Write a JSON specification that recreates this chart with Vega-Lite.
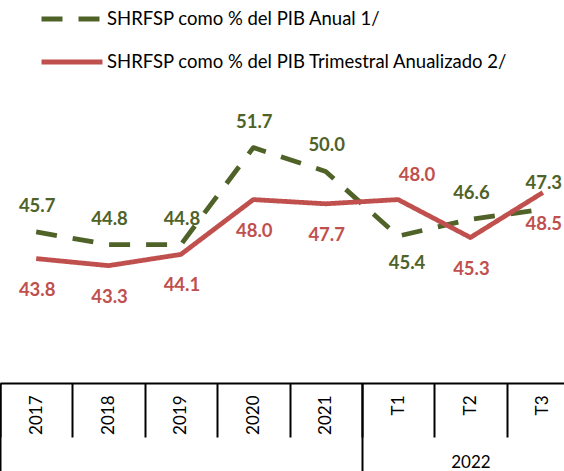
{
  "$schema": "https://vega.github.io/schema/vega-lite/v6.json",
  "width": 564,
  "height": 383,
  "autosize": {"type": "none"},
  "padding": {"top": 0, "left": 0, "right": 0, "bottom": 88},
  "background": "white",
  "config": {"view": {"stroke": null}, "font": "Lato"},
  "data": {
    "values": [
      {"periodo": "2017", "serie": "SHRFSP como % del PIB Anual 1/", "valor": 45.7},
      {"periodo": "2018", "serie": "SHRFSP como % del PIB Anual 1/", "valor": 44.8},
      {"periodo": "2019", "serie": "SHRFSP como % del PIB Anual 1/", "valor": 44.8},
      {"periodo": "2020", "serie": "SHRFSP como % del PIB Anual 1/", "valor": 51.7},
      {"periodo": "2021", "serie": "SHRFSP como % del PIB Anual 1/", "valor": 50.0},
      {"periodo": "T1", "serie": "SHRFSP como % del PIB Anual 1/", "valor": 45.4},
      {"periodo": "T2", "serie": "SHRFSP como % del PIB Anual 1/", "valor": 46.6},
      {"periodo": "T3", "serie": "SHRFSP como % del PIB Anual 1/", "valor": 47.3},
      {"periodo": "2017", "serie": "SHRFSP como % del PIB Trimestral Anualizado 2/", "valor": 43.8},
      {"periodo": "2018", "serie": "SHRFSP como % del PIB Trimestral Anualizado 2/", "valor": 43.3},
      {"periodo": "2019", "serie": "SHRFSP como % del PIB Trimestral Anualizado 2/", "valor": 44.1},
      {"periodo": "2020", "serie": "SHRFSP como % del PIB Trimestral Anualizado 2/", "valor": 48.0},
      {"periodo": "2021", "serie": "SHRFSP como % del PIB Trimestral Anualizado 2/", "valor": 47.7},
      {"periodo": "T1", "serie": "SHRFSP como % del PIB Trimestral Anualizado 2/", "valor": 48.0},
      {"periodo": "T2", "serie": "SHRFSP como % del PIB Trimestral Anualizado 2/", "valor": 45.3},
      {"periodo": "T3", "serie": "SHRFSP como % del PIB Trimestral Anualizado 2/", "valor": 48.5}
    ]
  },
  "layer": [
    {
      "encoding": {
        "x": {
          "field": "periodo",
          "type": "nominal",
          "scale": {"type": "band", "domain": ["2017", "2018", "2019", "2020", "2021", "T1", "T2", "T3"], "range": [0, 579], "paddingInner": 0, "paddingOuter": 0},
          "axis": {
            "title": null,
            "orient": "bottom",
            "domain": true,
            "domainColor": "#000000",
            "domainWidth": 2,
            "ticks": true,
            "tickBand": "extent",
            "tickSize": 54,
            "tickColor": "#000000",
            "tickWidth": 2,
            "labelAngle": 270,
            "labelAlign": "right",
            "labelBaseline": "middle",
            "labelPadding": -42,
            "labelFont": "Lato",
            "labelFontSize": 17,
            "labelColor": "#000000",
            "labelOverlap": false,
            "grid": false
          }
        },
        "y": {
          "field": "valor",
          "type": "quantitative",
          "scale": {"domain": [34.95, 62.2], "nice": false, "zero": false},
          "axis": null
        }
      },
      "layer": [
        {
          "mark": {"type": "line", "strokeWidth": 4.8, "strokeCap": "butt", "strokeJoin": "round"},
          "encoding": {
            "color": {
              "field": "serie",
              "type": "nominal",
              "scale": {"domain": ["SHRFSP como % del PIB Anual 1/", "SHRFSP como % del PIB Trimestral Anualizado 2/"], "range": ["#4F6228", "#C0504D"]},
              "legend": {
                "title": null,
                "orient": "none",
                "legendX": 39,
                "legendY": -14,
                "symbolType": "stroke",
                "symbolSize": 3721,
                "symbolStrokeWidth": 5,
                "labelFont": "Lato",
                "labelFontSize": 18.5,
                "labelColor": "#000000",
                "labelOffset": 2,
                "rowPadding": -21,
                "padding": 0,
                "labelLimit": 600
              }
            },
            "strokeDash": {
              "field": "serie",
              "type": "nominal",
              "scale": {"domain": ["SHRFSP como % del PIB Anual 1/", "SHRFSP como % del PIB Trimestral Anualizado 2/"], "range": [[21, 16], [1, 0]]},
              "legend": {
                "title": null,
                "orient": "none",
                "legendX": 39,
                "legendY": -14,
                "symbolType": "stroke",
                "symbolSize": 3721,
                "symbolStrokeWidth": 5,
                "labelFont": "Lato",
                "labelFontSize": 18.5,
                "labelColor": "#000000",
                "labelOffset": 2,
                "rowPadding": -21,
                "padding": 0,
                "labelLimit": 600
              }
            }
          }
        },
        {
          "transform": [{"filter": "datum.serie === 'SHRFSP como % del PIB Anual 1/' && datum.periodo !== 'T1'"}],
          "mark": {"type": "text", "font": "Lato", "fontSize": 18.5, "fontWeight": "bold", "color": "#4F6228", "dx": 1, "dy": -26, "baseline": "middle"},
          "encoding": {"text": {"field": "valor", "type": "quantitative", "format": ".1f"}}
        },
        {
          "transform": [{"filter": "datum.serie === 'SHRFSP como % del PIB Trimestral Anualizado 2/' && datum.periodo !== 'T1'"}],
          "mark": {"type": "text", "font": "Lato", "fontSize": 18.5, "fontWeight": "bold", "color": "#C0504D", "dx": 1, "dy": 31, "baseline": "middle"},
          "encoding": {"text": {"field": "valor", "type": "quantitative", "format": ".1f"}}
        },
        {
          "transform": [{"filter": "datum.serie === 'SHRFSP como % del PIB Trimestral Anualizado 2/' && datum.periodo === 'T1'"}],
          "mark": {"type": "text", "font": "Lato", "fontSize": 18.5, "fontWeight": "bold", "color": "#C0504D", "dx": 19, "dy": -25, "baseline": "middle"},
          "encoding": {"text": {"field": "valor", "type": "quantitative", "format": ".1f"}}
        }
      ]
    },
    {
      "transform": [{"filter": "datum.serie === 'SHRFSP como % del PIB Anual 1/' && datum.periodo === 'T1'"}],
      "mark": {"type": "text", "font": "Lato", "fontSize": 18.5, "fontWeight": "bold", "color": "#4F6228", "dx": 9, "dy": 27, "baseline": "middle"},
      "encoding": {
        "x": {
          "field": "periodo",
          "type": "nominal",
          "scale": {"type": "band", "domain": ["2017", "2018", "2019", "2020", "2021", "T1", "T2", "T3"], "range": [0, 579], "paddingInner": 0, "paddingOuter": 0},
          "axis": {
            "title": null,
            "orient": "bottom",
            "domain": false,
            "ticks": true,
            "tickBand": "extent",
            "tickSize": 88,
            "tickColor": "#000000",
            "tickWidth": 2,
            "tickOpacity": {"condition": {"test": "datum.value === '2021' || datum.extra", "value": 1}, "value": 0},
            "labelExpr": "datum.value === 'T2' ? '2022' : ''",
            "labelAngle": 0,
            "labelAlign": "center",
            "labelBaseline": "alphabetic",
            "labelPadding": -4,
            "labelFont": "Lato",
            "labelFontSize": 17,
            "labelColor": "#000000",
            "labelOverlap": false,
            "grid": false
          }
        },
        "y": {"field": "valor", "type": "quantitative"},
        "text": {"field": "valor", "type": "quantitative", "format": ".1f"}
      }
    }
  ],
  "resolve": {"scale": {"x": "independent"}, "axis": {"x": "independent"}}
}
